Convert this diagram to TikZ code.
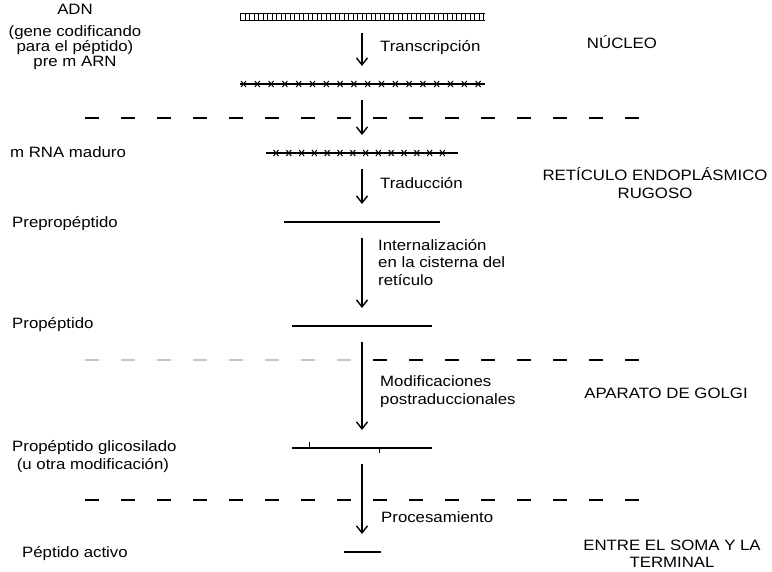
\documentclass[tikz,border=0pt]{standalone}
\usepackage{fontspec}
\setmainfont{Liberation Sans}[FakeStretch=1.12]
\usetikzlibrary{arrows.meta}

\begin{document}
\begin{tikzpicture}[x=1pt, y=-1pt,
			font=\fontsize{15}{17.5}\selectfont,
			strand/.style={inner sep=0pt, outer sep=0pt, minimum height=0pt},
			chain/.style={line width=1.3pt},
			tick/.style={line width=1pt},
			lbl/.style={anchor=base west, inner sep=0pt, align=left},
			region/.style={anchor=base, inner sep=0pt, align=center},
			arrow/.style={-{Straight Barb[length=7pt,width=11pt]}, line width=1.4pt, shorten <=16pt, shorten >=18pt},
			sep/.style={dash pattern=on 14pt off 22pt, line width=1.3pt}]
			
			\useasboundingbox (0,0) rectangle (772,571);
			
			\node[strand, minimum width=245pt] (adn) at (362,17) {};
			\node[strand, minimum width=245pt] (premrna) at (362,84) {};
			\node[strand, minimum width=192pt] (mrna) at (362,153) {};
			\node[strand, minimum width=156pt] (prepro) at (362,222) {};
			\node[strand, minimum width=140pt] (pro) at (362,326) {};
			\node[strand, minimum width=140pt] (glico) at (362,448) {};
			\node[strand, minimum width=37pt] (activo) at (362,552) {};
			
			\draw[chain] ([yshift=3.5pt]adn.west) -- ([yshift=3.5pt]adn.east)
				([yshift=-3.5pt]adn.west) -- ([yshift=-3.5pt]adn.east);
			\foreach \i in {0,...,54}
				\draw[tick] ([xshift=\i*4.5pt+1pt, yshift=3.5pt]adn.west) -- ++(0,7);
			
			\draw[chain] (premrna.west) -- (premrna.east);
			\foreach \i in {0,...,17}
				\draw[tick] ([xshift=\i*13.8pt+4pt]premrna.west) +(-2.5,-3) -- +(2.5,3) +(-2.5,3) -- +(2.5,-3);
			
			\draw[chain] (mrna.west) -- (mrna.east);
			\foreach \i in {0,...,13}
				\draw[tick] ([xshift=\i*12.8pt+10pt]mrna.west) +(-2.5,-3) -- +(2.5,3) +(-2.5,3) -- +(2.5,-3);
			
			\draw[chain] (prepro.west) -- (prepro.east);
			\draw[chain] (pro.west) -- (pro.east);
			\draw[chain] (glico.west) -- (glico.east);
			\draw[tick] ([xshift=17pt]glico.west) -- ++(0,-6);
			\draw[tick] ([xshift=87pt]glico.west) -- ++(0,5);
			\draw[chain] (activo.west) -- (activo.east);
			
			\draw[arrow] (adn) -- (premrna);
			\draw[arrow] (premrna) -- (mrna);
			\draw[arrow] (mrna) -- (prepro);
			\draw[arrow] (prepro) -- (pro);
			\draw[arrow] (pro) -- (glico);
			\draw[arrow] (glico) -- (activo);
			
			\draw[sep] (85,118) -- (645,118);
			\draw[sep, gray!45] (85,360) -- (355,360);
			\draw[sep] (373,360) -- (645,360);
			\draw[sep] (85,500) -- (645,500);
			
			\node[region, font=\fontsize{15}{12.5}\selectfont] (adnlbl) at (75,66) {ADN\\[9pt](gene codificando\\para el péptido)\\pre m ARN};
			\node[lbl] (mrnalbl) at (10,157) {m RNA maduro};
			\node[lbl] (preprolbl) at (12,227) {Prepropéptido};
			\node[lbl] (prolbl) at (12,328) {Propéptido};
			\node[lbl] (glicolbl) at (12,469) {Propéptido glicosilado\\\ (u otra modificación)};
			\node[lbl] (activolbl) at (22,557) {Péptido activo};
			
			\node[lbl] (transc) at (380,51) {Transcripción};
			\node[lbl] (traduc) at (380,188) {Traducción};
			\node[lbl] (intern) at (378,285) {Internalización\\en la cisterna del\\retículo};
			\node[lbl] (modif) at (380,404) {Modificaciones\\postraduccionales};
			\node[lbl] (proces) at (381,522) {Procesamiento};
			
			\node[region] (nucleo) at (622,48) {NÚCLEO};
			\node[region, font=\fontsize{15}{18}\selectfont] (rer) at (655,198) {RETÍCULO ENDOPLÁSMICO\\RUGOSO};
			\node[region] (golgi) at (666,398) {APARATO DE GOLGI};
			\node[region, font=\fontsize{15}{17}\selectfont] (soma) at (672,567) {ENTRE EL SOMA Y LA\\TERMINAL};
			
		\end{tikzpicture}
\end{document}
